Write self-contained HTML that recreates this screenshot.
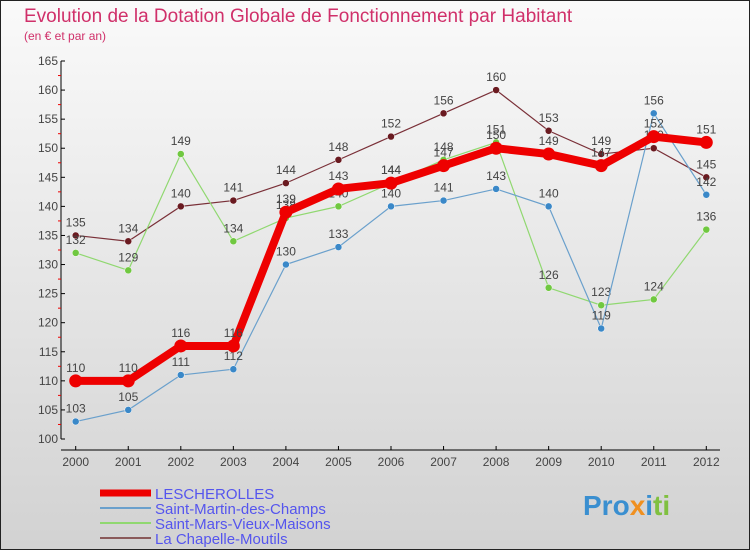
<!DOCTYPE html>
<html><head><meta charset="utf-8"><style>
body{margin:0;width:750px;height:550px;overflow:hidden;font-family:"Liberation Sans",sans-serif}
#c{position:absolute;left:0;top:0}
</style></head><body>
<svg id="c" width="750" height="550">
<defs><linearGradient id="bg" x1="0" y1="0" x2="0" y2="1"><stop offset="0" stop-color="#fafafa"/><stop offset="1" stop-color="#d2d2d2"/></linearGradient></defs>
<rect x="0.5" y="0.5" width="749" height="549" fill="url(#bg)" stroke="#222"/>
<text x="24" y="22" font-size="19" fill="#d0306a">Evolution de la Dotation Globale de Fonctionnement par Habitant</text>
<text x="24" y="40" font-size="12" fill="#d0306a">(en € et par an)</text>
<g id="axes"></g><g id="series"></g><g id="legend"></g>
<text x="583" y="515" font-size="28" font-weight="bold" fill="#3a8fd0">Pro<tspan fill="#f09020">x</tspan><tspan fill="#3a8fd0">i</tspan><tspan fill="#80c040">ti</tspan></text>
</svg>
<script>
const years=[2000,2001,2002,2003,2004,2005,2006,2007,2008,2009,2010,2011,2012];
const yTicks=[100,105,110,115,120,125,130,135,140,145,150,155,160,165];
const lescherolles=[110,110,116,116,139,143,144,147,150,149,147,152,151];
const saintMartin=[103,105,111,112,130,133,140,141,143,140,119,156,142];
const saintMars=[132,129,149,134,138,140,144,148,151,126,123,124,136];
const chapelle=[135,134,140,141,144,148,152,156,160,153,149,150,145];
const names=["LESCHEROLLES","Saint-Martin-des-Champs","Saint-Mars-Vieux-Maisons","La Chapelle-Moutils"];
const NS="http://www.w3.org/2000/svg";
const X=i=>75.7+i*52.55;
const Y=v=>439-(v-100)*(378/65);
function mk(t,a,p){const e=document.createElementNS(NS,t);for(const k in a)e.setAttribute(k,a[k]);p.appendChild(e);return e;}
const ax=document.getElementById('axes');
let yl=mk('line',{x1:61,y1:Y(165),x2:61,y2:439,stroke:'#000'},ax);


let xl=mk('line',{x1:61,y1:450,x2:720,y2:450,stroke:'#000'},ax);


yTicks.forEach((v,i)=>{
 mk('line',{x1:61,y1:Y(v),x2:65,y2:Y(v),stroke:'#000'},ax);
 if(i<yTicks.length-1)mk('line',{x1:58,y1:Y(v+2.5),x2:61,y2:Y(v+2.5),stroke:'#e00'},ax);
 const t=mk('text',{x:58,y:Y(v)+4,'font-size':12,fill:'#444','text-anchor':'end'},ax);
 t.textContent=v;
 
 
});
years.forEach((y,i)=>{
 mk('line',{x1:X(i),y1:446,x2:X(i),y2:450,stroke:'#000'},ax);
 const t=mk('text',{x:X(i),y:466,'font-size':12,fill:'#444','text-anchor':'middle'},ax);
 t.textContent=y;
 
 
});
const ser=document.getElementById('series');
const defs=[
 {d:chapelle,c:'#7a3038',w:1.2,r:3.5,f:'#6a1a20',n:'la-chapelle-moutils'},
 {d:saintMars,c:'#90d870',w:1.2,r:3.5,f:'#70c840',n:'saint-mars-vieux-maisons'},
 {d:saintMartin,c:'#6aa0cc',w:1.2,r:3.5,f:'#3a88c8',n:'saint-martin-des-champs'},
 {d:lescherolles,c:'#ee0000',w:8,r:6.5,f:'#ee0000',n:'lescherolles'}];
defs.forEach(s=>{
 const g=mk('g',{},ser);
 
 
 const pl=mk('polyline',{points:s.d.map((v,i)=>X(i)+','+Y(v)).join(' '),fill:'none',stroke:s.c,'stroke-width':s.w},g);
 
 
 s.d.forEach((v,i)=>{
  const p=mk('circle',{cx:X(i),cy:Y(v),r:s.r,fill:s.f,stroke:s.w>2?'none':'#fff','stroke-width':0.5},g);
  
  
  const t=mk('text',{x:X(i),y:Y(v)-9,'font-size':12,fill:'#444','text-anchor':'middle'},g);
  t.textContent=v;
  
  
 });
});
const lg=document.getElementById('legend');
const lc=['#ee0000','#6aa0cc','#90d870','#8a5a5a'],lw=[7,2,2,2];
names.forEach((n,i)=>{
 const y=493+i*15;
 const l=mk('line',{x1:100,y1:y,x2:151,y2:y,stroke:lc[i],'stroke-width':lw[i]},lg);
 
 
 const t=mk('text',{x:155,y:y+6,'font-size':15,fill:'#5555ee'},lg);
 t.textContent=n;
 
 
});
</script>
</body></html>
